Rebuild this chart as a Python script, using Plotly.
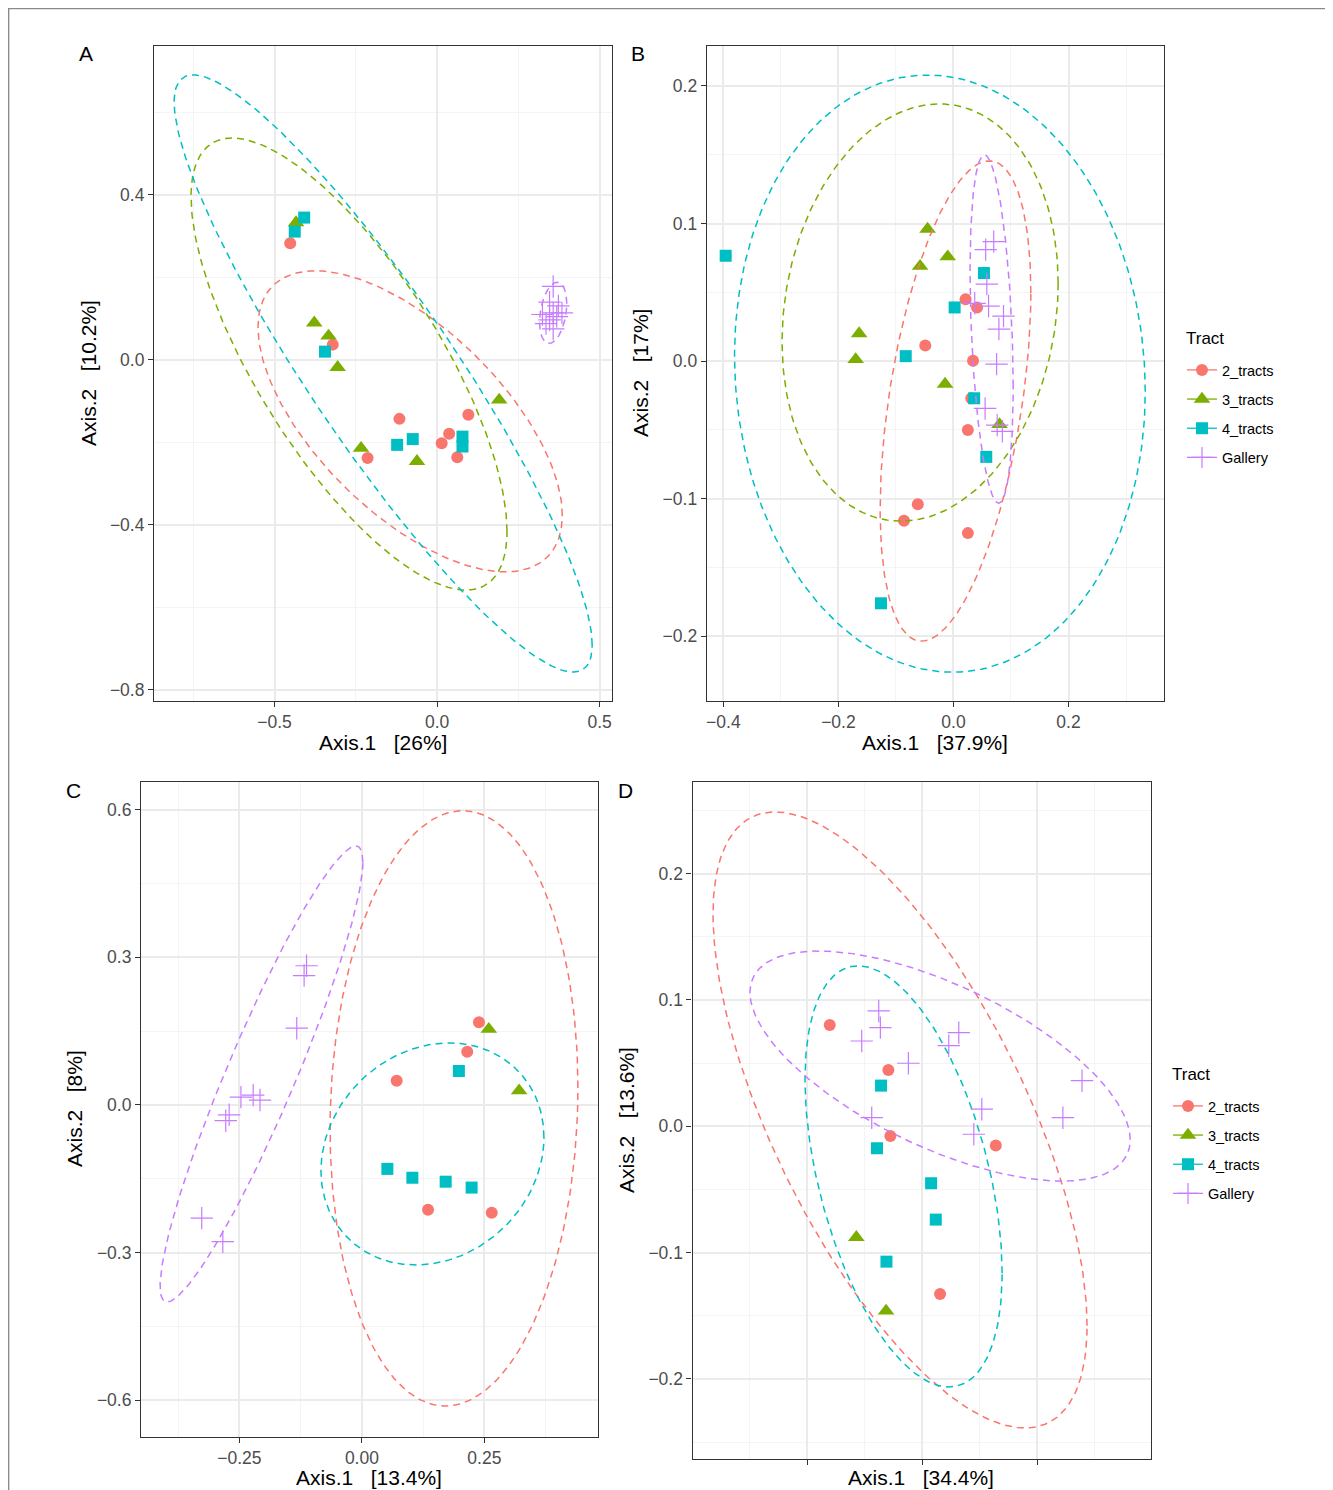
import numpy as np
import plotly.graph_objects as go

OFF = 8  # page body margin
W, H = 1333 - OFF, 1490 - OFF
groups = ["2_tracts", "3_tracts", "4_tracts", "Gallery"]
colors = {"2_tracts": "#F8766D", "3_tracts": "#7CAE00", "4_tracts": "#00BFC4", "Gallery": "#C77CFF"}
symbols = {"2_tracts": "circle", "3_tracts": "triangle-up", "4_tracts": "square", "Gallery": "cross-thin"}
sizes = {"2_tracts": 12, "3_tracts": 14.5, "4_tracts": 12, "Gallery": 16}

# ---------------- Panel A ----------------
A_2_x = [-0.452, -0.321, -0.214, -0.116, 0.014, 0.037, 0.062, 0.096]
A_2_y = [0.283, 0.037, -0.238, -0.143, -0.202, -0.179, -0.236, -0.133]
A_3_x = [-0.434, -0.378, -0.334, -0.306, -0.234, -0.062, 0.191]
A_3_y = [0.333, 0.090, 0.058, -0.018, -0.214, -0.246, -0.097]
A_4_x = [-0.409, -0.438, -0.345, -0.123, -0.075, 0.078, 0.078]
A_4_y = [0.345, 0.311, 0.020, -0.206, -0.192, -0.186, -0.210]
A_G_x = [0.357, 0.346, 0.373, 0.357, 0.324, 0.384, 0.346, 0.335, 0.357, 0.368]
A_G_y = [0.178, 0.140, 0.131, 0.114, 0.110, 0.114, 0.097, 0.088, 0.075, 0.105]
# ellipse: centre x, half-width x, centre y, half-height y, correlation
A_ell_2 = [-0.083, 0.468, -0.149, 0.365, -0.625]
A_ell_3 = [-0.271, 0.486, -0.010, 0.548, -0.74]
A_ell_4 = [-0.166, 0.643, -0.033, 0.724, -0.909]
A_ell_G = [0.357, 0.042, 0.114, 0.074, 0.3]

# ---------------- Panel B ----------------
B_2_x = [0.021, 0.041, -0.049, 0.034, 0.031, 0.025, -0.062, -0.086, 0.025]
B_2_y = [0.045, 0.039, 0.0114, 0.0002, -0.027, -0.050, -0.104, -0.116, -0.125]
B_3_x = [-0.045, -0.010, -0.058, -0.164, -0.170, -0.0146, 0.080]
B_3_y = [0.096, 0.0759, 0.069, 0.020, 0.0012, -0.0167, -0.046]
B_4_x = [-0.396, 0.053, 0.002, -0.083, 0.036, 0.057, -0.126]
B_4_y = [0.0766, 0.064, 0.039, 0.0036, -0.027, -0.0696, -0.176]
B_G_x = [0.070, 0.056, 0.058, 0.037, 0.061, 0.087, 0.079, 0.075, 0.055, 0.076, 0.085]
B_G_y = [0.0868, 0.081, 0.056, 0.042, 0.040, 0.0327, 0.0233, -0.0022, -0.0344, -0.0465, -0.051]
B_ell_2 = [0.0035, 0.131, -0.029, 0.1745, 0.45]
B_ell_3 = [-0.058, 0.240, 0.0353, 0.1516, 0.14]
B_ell_4 = [-0.0236, 0.357, -0.0091, 0.217, -0.06]
B_ell_G = [0.0663, 0.0375, 0.0233, 0.1265, -0.33]

# ---------------- Panel C ----------------
C_2_x = [0.239, 0.215, 0.071, 0.135, 0.265]
C_2_y = [0.168, 0.108, 0.049, -0.213, -0.219]
C_3_x = [0.259, 0.321]
C_3_y = [0.154, 0.029]
C_4_x = [0.198, 0.052, 0.103, 0.171, 0.224]
C_4_y = [0.069, -0.130, -0.148, -0.156, -0.168]
C_G_x = [-0.113, -0.118, -0.133, -0.247, -0.222, -0.208, -0.271, -0.278, -0.327, -0.284]
C_G_y = [0.283, 0.263, 0.156, 0.016, 0.020, 0.010, -0.020, -0.032, -0.230, -0.278]
C_ell_2 = [0.188, 0.253, -0.007, 0.605, 0.07]
C_ell_4 = [0.144, 0.2276, -0.0996, 0.2256, 0.15]
C_ell_G = [-0.205, 0.207, 0.063, 0.4634, 0.93]

# ---------------- Panel D ----------------
D_2_x = [-0.1605, -0.0586, -0.0551, 0.1281, 0.0313]
D_2_y = [0.0802, 0.0446, -0.0077, -0.0153, -0.1328]
D_3_x = [-0.1143, -0.0626]
D_3_y = [-0.0879, -0.1462]
D_4_x = [-0.0713, -0.0783, 0.0157, 0.0238, -0.0619]
D_4_y = [0.0322, -0.0174, -0.0451, -0.0739, -0.1072]
D_G_x = [-0.0753, -0.0725, -0.1049, 0.0638, 0.0464, -0.0238, 0.278, 0.1038, -0.0875, 0.2447, 0.0899]
D_G_y = [0.0913, 0.0781, 0.0675, 0.0741, 0.0638, 0.0499, 0.0361, 0.0135, 0.0068, 0.0068, -0.0063]
D_ell_2 = [-0.0383, 0.325, 0.005, 0.2439, -0.668]
D_ell_4 = [-0.0322, 0.1713, -0.0397, 0.1667, -0.46]
D_ell_G = [0.0313, 0.3304, 0.0477, 0.0911, -0.64]

panels = {
    "A": dict(pts={"2_tracts": (A_2_x, A_2_y), "3_tracts": (A_3_x, A_3_y), "4_tracts": (A_4_x, A_4_y), "Gallery": (A_G_x, A_G_y)},
              ell={"2_tracts": A_ell_2, "3_tracts": A_ell_3, "4_tracts": A_ell_4, "Gallery": A_ell_G}),
    "B": dict(pts={"2_tracts": (B_2_x, B_2_y), "3_tracts": (B_3_x, B_3_y), "4_tracts": (B_4_x, B_4_y), "Gallery": (B_G_x, B_G_y)},
              ell={"2_tracts": B_ell_2, "3_tracts": B_ell_3, "4_tracts": B_ell_4, "Gallery": B_ell_G}),
    "C": dict(pts={"2_tracts": (C_2_x, C_2_y), "3_tracts": (C_3_x, C_3_y), "4_tracts": (C_4_x, C_4_y), "Gallery": (C_G_x, C_G_y)},
              ell={"2_tracts": C_ell_2, "4_tracts": C_ell_4, "Gallery": C_ell_G}),
    "D": dict(pts={"2_tracts": (D_2_x, D_2_y), "3_tracts": (D_3_x, D_3_y), "4_tracts": (D_4_x, D_4_y), "Gallery": (D_G_x, D_G_y)},
              ell={"2_tracts": D_ell_2, "4_tracts": D_ell_4, "Gallery": D_ell_G}),
}

axis_titles = {
    "A": ("Axis.1   [26%]", "Axis.2   [10.2%]"),
    "B": ("Axis.1   [37.9%]", "Axis.2   [17%]"),
    "C": ("Axis.1   [13.4%]", "Axis.2   [8%]"),
    "D": ("Axis.1   [34.4%]", "Axis.2   [13.6%]"),
}

# layout geometry (pixels in the final page)
boxes = {"A": (154, 612, 46, 701), "B": (706.7, 1164, 46, 701),
         "C": (141, 598, 782, 1437), "D": (692.5, 1150.5, 782, 1459.3)}
ranges = {"A": ([-0.871, 0.538], [-0.827, 0.761]),
          "B": ([-0.429, 0.366], [-0.247, 0.229]),
          "C": ([-0.451, 0.482], [-0.675, 0.6565]),
          "D": ([-0.399, 0.397], [-0.2637, 0.2726])}
dticks = {"A": (0.5, 0.4, ".1f", ".1f"), "B": (0.2, 0.1, ".1f", ".1f"),
          "C": (0.25, 0.3, ".2f", ".1f"), "D": (0.2, 0.1, ".1f", ".1f")}
axid = {"A": "", "B": "2", "C": "3", "D": "4"}


def ellipse(p, n=240):
    cx, ax, cy, ay, rho = p
    phi = np.arccos(rho)
    t = np.linspace(0, 2 * np.pi, n)
    return cx + ax * np.cos(t), cy + ay * np.cos(t - phi)


def px(x):
    return (x - OFF) / W


def py(y):
    return 1 - (y - OFF) / H


fig = go.Figure()
for key, pdata in panels.items():
    s = axid[key]
    for g in groups:
        x, y = pdata["pts"][g]
        mk = dict(color=colors[g], symbol=symbols[g], size=sizes[g], line=dict(width=0))
        if g == "Gallery":
            mk["line"] = dict(width=1.2, color=colors[g])
        fig.add_trace(go.Scatter(x=x, y=y, mode="markers", marker=mk, showlegend=False,
                                 xaxis="x" + s, yaxis="y" + s, hoverinfo="skip"))
    for g, p in pdata["ell"].items():
        ex, ey = ellipse(p)
        fig.add_trace(go.Scatter(x=ex, y=ey, mode="lines", showlegend=False,
                                 line=dict(color=colors[g], width=1.5, dash="7px,5px"),
                                 xaxis="x" + s, yaxis="y" + s, hoverinfo="skip"))

# legends (B and D)
for lg in ["legend", "legend2"]:
    for g in groups:
        mk = dict(color=colors[g], symbol=symbols[g], size=sizes[g] if g != "Gallery" else 15, line=dict(width=0))
        if g == "Gallery":
            mk["line"] = dict(width=1.2, color=colors[g])
        fig.add_trace(go.Scatter(x=[None], y=[None], mode="lines+markers", name=g, marker=mk,
                                 line=dict(color=colors[g], width=1.3), legend=lg,
                                 legendgroup=lg + g, showlegend=True, xaxis="x", yaxis="y"))

layout = dict(width=W, height=H, autosize=False, margin=dict(l=0, r=0, t=0, b=0, pad=0),
              paper_bgcolor="white", plot_bgcolor="white",
              font=dict(family="Liberation Sans, Arial, sans-serif", color="black"))

grid_major = "#EBEBEB"
grid_minor = "#F4F4F4"
for key in panels:
    s = axid[key]
    x0, x1, y0, y1 = boxes[key]
    xr, yr = ranges[key]
    dx, dy, fx, fy = dticks[key]
    common = dict(showline=True, linecolor="#333333", linewidth=1.1, mirror=True,
                  ticks="outside", ticklen=5, tickwidth=1.1, tickcolor="#333333",
                  showgrid=True, gridcolor=grid_major, gridwidth=1.6, zeroline=False,
                  tickfont=dict(size=17.5, color="#4D4D4D"), tick0=0)
    xa = dict(common, domain=[px(x0), px(x1)], range=xr, dtick=dx, tickformat=fx,
              anchor="y" + s, minor=dict(dtick=dx / 2, tick0=0, showgrid=True, gridcolor=grid_minor, gridwidth=0.9))
    ya = dict(common, domain=[py(y1), py(y0)], range=yr, dtick=dy, tickformat=fy,
              anchor="x" + s, minor=dict(dtick=dy / 2, tick0=0, showgrid=True, gridcolor=grid_minor, gridwidth=0.9))
    if key == "D":
        xa["showticklabels"] = False
    layout["xaxis" + s] = xa
    layout["yaxis" + s] = ya

annotations = []
label_pos = {"A": (86, 54), "B": (638, 54), "C": (73, 790), "D": (625, 790)}
for k, (lx, ly) in label_pos.items():
    annotations.append(dict(text=k, x=px(lx), y=py(ly), xref="paper", yref="paper",
                            showarrow=False, xanchor="center", yanchor="middle", font=dict(size=21, color="black")))
xtitle_pos = {"A": (383, 742), "B": (935, 742), "C": (369, 1477), "D": (921, 1477)}
ytitle_pos = {"A": (88, 373), "B": (640, 373), "C": (74, 1109), "D": (626, 1120)}
for k in panels:
    xt, yt = axis_titles[k]
    ax_, ay_ = xtitle_pos[k]
    annotations.append(dict(text=xt.replace(" ", "\u00a0"), x=px(ax_), y=py(ay_), xref="paper", yref="paper",
                            showarrow=False, xanchor="center", yanchor="middle", font=dict(size=21, color="black")))
    bx, by = ytitle_pos[k]
    annotations.append(dict(text=yt.replace(" ", "\u00a0"), x=px(bx), y=py(by), xref="paper", yref="paper",
                            showarrow=False, xanchor="center", yanchor="middle", textangle=-90,
                            font=dict(size=21, color="black")))
# legend titles
for (tx, ty) in [(1184, 338), (1170, 1074)]:
    annotations.append(dict(text="Tract", x=px(tx), y=py(ty), xref="paper", yref="paper",
                            showarrow=False, xanchor="left", yanchor="middle", font=dict(size=17, color="black")))
layout["annotations"] = annotations

leg_common = dict(xanchor="left", yanchor="top", bgcolor="rgba(0,0,0,0)", traceorder="grouped",
                  tracegroupgap=7.3, itemwidth=30, font=dict(size=14.5, color="black"))
layout["legend"] = dict(leg_common, x=px(1182), y=py(354))
layout["legend2"] = dict(leg_common, x=px(1168), y=py(1090))

layout["shapes"] = [dict(type="rect", xref="paper", yref="paper", x0=px(8.6), x1=px(1331), y0=py(1500), y1=py(8.6),
                         line=dict(color="#8A8A8A", width=1.5), fillcolor="rgba(0,0,0,0)", layer="below")]

fig.update_layout(**layout)
fig.write_html("out.html")
